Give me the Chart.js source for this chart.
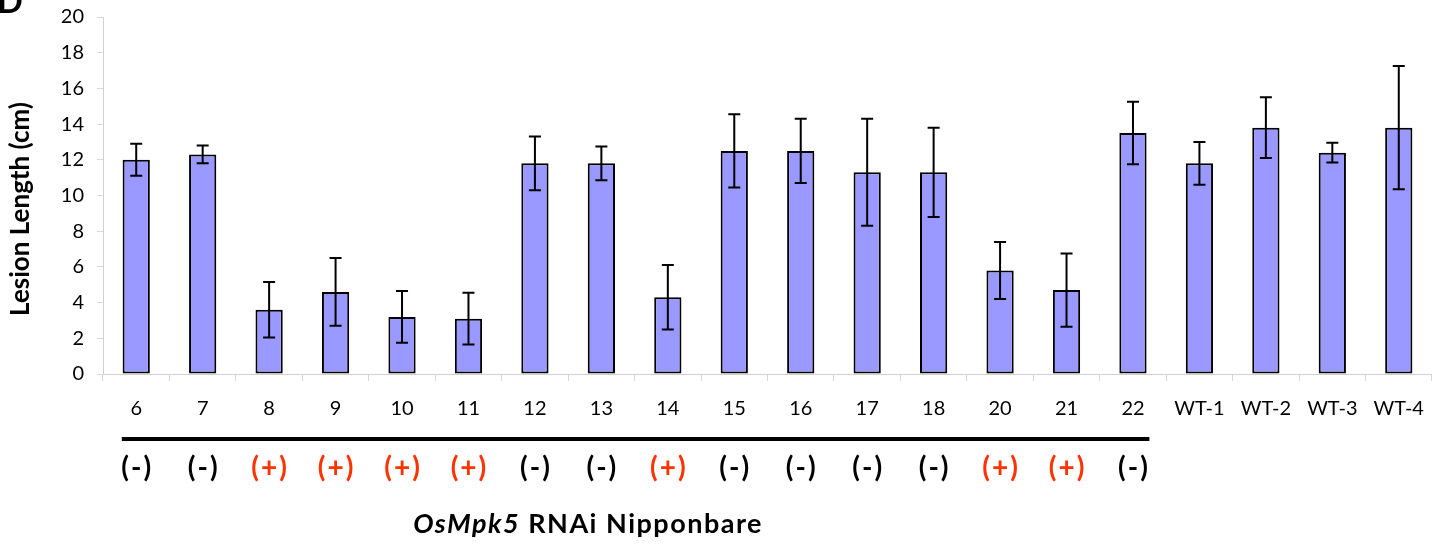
<!DOCTYPE html>
<html>
<head>
<meta charset="utf-8">
<script src="https://cdn.jsdelivr.net/npm/chart.js@4"></script>
<style>
  html, body { margin: 0; padding: 0; background: #ffffff; }
  #wrap { width: 1432px; height: 547px; position: relative; }
</style>
</head>
<body>
<div id="wrap"><canvas id="c"></canvas></div>
<script>
const categories = ['6','7','8','9','10','11','12','13','14','15','16','17','18','20','21','22','WT-1','WT-2','WT-3','WT-4'];
const lesionMeans = [12.0, 12.3, 3.6, 4.6, 3.2, 3.1, 11.8, 11.8, 4.3, 12.5, 12.5, 11.3, 11.3, 5.8, 4.7, 13.5, 11.8, 13.8, 12.4, 13.8];
const lesionErrors = [0.9, 0.5, 1.55, 1.9, 1.45, 1.45, 1.5, 0.95, 1.8, 2.05, 1.8, 3.0, 2.5, 1.6, 2.05, 1.75, 1.2, 1.7, 0.55, 3.45];
const transgeneMarks = ['(-)','(-)','(+)','(+)','(+)','(+)','(-)','(-)','(+)','(-)','(-)','(-)','(-)','(+)','(+)','(-)'];
const yTickValues = [0, 2, 4, 6, 8, 10, 12, 14, 16, 18, 20];
const yTitle = 'Lesion Length (cm)';
const groupTitleItalic = 'OsMpk5';
const groupTitleRest = ' RNAi Nipponbare';
const panelLetter = 'D';

const FONT = 'Lato, "Open Sans", sans-serif';
const BAR_PCT = 0.41;

const overlay = {
  id: 'overlay',
  afterDatasetsDraw(chart) {
    const ctx = chart.ctx;
    const ys = chart.scales.y;
    const meta = chart.getDatasetMeta(0);
    ctx.save();
    ctx.strokeStyle = '#000000';
    ctx.lineWidth = 2;
    meta.data.forEach((bar, i) => {
      const yTop = ys.getPixelForValue(lesionMeans[i] + lesionErrors[i]);
      const yBot = ys.getPixelForValue(lesionMeans[i] - lesionErrors[i]);
      const cx = bar.x;
      const cap = 6;
      ctx.beginPath();
      ctx.moveTo(cx, yTop); ctx.lineTo(cx, yBot);
      ctx.moveTo(cx - cap, yTop); ctx.lineTo(cx + cap, yTop);
      ctx.moveTo(cx - cap, yBot); ctx.lineTo(cx + cap, yBot);
      ctx.stroke();
    });
    ctx.restore();
  },
  afterDraw(chart) {
    const ctx = chart.ctx;
    const xs = chart.scales.x;
    const catW = xs.getPixelForValue(1) - xs.getPixelForValue(0);
    const half = catW * BAR_PCT / 2 + 0.8;
    ctx.save();
    // panel letter
    ctx.fillStyle = '#000';
    ctx.font = 'bold 34px ' + FONT;
    ctx.textAlign = 'left';
    ctx.textBaseline = 'alphabetic';
    ctx.fillText(panelLetter, -3, 13);
    // y title
    ctx.save();
    ctx.translate(29, 209);
    ctx.rotate(-Math.PI / 2);
    ctx.font = 'bold 26px ' + FONT;
    ctx.textAlign = 'center';
    ctx.fillText(yTitle, 0, 0);
    ctx.restore();
    // group line
    const n = transgeneMarks.length;
    const x0 = xs.getPixelForValue(0) - half;
    const x1 = xs.getPixelForValue(n - 1) + half + 2;
    ctx.strokeStyle = '#000';
    ctx.lineWidth = 4;
    ctx.beginPath();
    ctx.moveTo(x0, 439); ctx.lineTo(x1, 439);
    ctx.stroke();
    // marks
    ctx.font = 'bold 28px ' + FONT;
    ctx.letterSpacing = '2px';
    ctx.textAlign = 'center';
    ctx.textBaseline = 'middle';
    transgeneMarks.forEach((m, i) => {
      ctx.fillStyle = m === '(+)' ? '#ff3300' : '#000000';
      ctx.fillText(m, xs.getPixelForValue(i) + 1, 468);
    });
    // group title
    ctx.fillStyle = '#000';
    ctx.textBaseline = 'alphabetic';
    ctx.textAlign = 'left';
    ctx.letterSpacing = '1.5px';
    const fIt = 'italic bold 27px ' + FONT;
    const fB = 'bold 27px ' + FONT;
    ctx.font = fIt; const w1 = ctx.measureText(groupTitleItalic).width;
    ctx.font = fB; const w2 = ctx.measureText(groupTitleRest).width;
    const cx = xs.getPixelForValue(6.8);
    const start = cx - (w1 + w2) / 2;
    ctx.font = fIt; ctx.fillText(groupTitleItalic, start, 533);
    ctx.font = fB; ctx.fillText(groupTitleRest, start + w1, 533);
    ctx.restore();
  }
};

new Chart(document.getElementById('c'), {
  type: 'bar',
  data: {
    labels: categories,
    datasets: [{
      data: lesionMeans,
      backgroundColor: '#9999ff',
      borderColor: '#000000',
      borderWidth: 2,
      borderSkipped: false,
      categoryPercentage: 1.0,
      barPercentage: BAR_PCT
    }]
  },
  options: {
    responsive: true,
    maintainAspectRatio: false,
    animation: false,
    devicePixelRatio: 1,
    layout: { padding: { top: 17, right: 0, left: 0, bottom: 0 } },
    plugins: { legend: { display: false }, tooltip: { enabled: false } },
    scales: {
      x: {
        offset: true,
        grid: { display: true, drawOnChartArea: false, drawTicks: true, tickLength: 7, color: '#d9d9d9', offset: true },
        border: { display: true, color: '#d0d0d0', width: 1 },
        ticks: { color: '#000', font: { family: FONT, size: 20 }, padding: 16, maxRotation: 0, autoSkip: false },
        afterFit(scale) { scale.height = 173; scale.paddingRight = 0; scale.paddingLeft = 0; }
      },
      y: {
        min: 0, max: 20,
        afterBuildTicks(scale) { scale.ticks = yTickValues.map(v => ({ value: v })); },
        grid: { display: true, drawOnChartArea: false, drawTicks: true, tickLength: 6, color: '#d9d9d9' },
        border: { display: true, color: '#d0d0d0', width: 1 },
        ticks: { color: '#000', font: { family: FONT, size: 20 }, padding: 13 },
        afterFit(scale) { scale.width = 103; scale.paddingTop = 0; scale.paddingBottom = 0; }
      }
    }
  },
  plugins: [overlay]
});
</script>
</body>
</html>
